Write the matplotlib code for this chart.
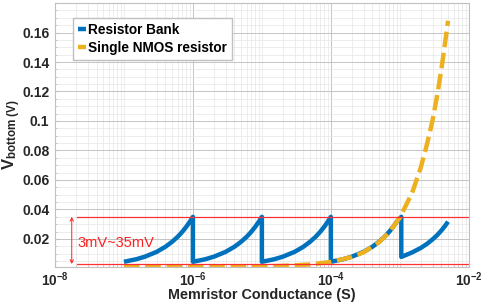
import numpy as np
import matplotlib
matplotlib.use("Agg")
import matplotlib.pyplot as plt
from matplotlib.ticker import FixedLocator, MultipleLocator, NullFormatter

plt.rcParams['font.family'] = ['Liberation Sans', 'DejaVu Sans']
plt.rcParams['mathtext.fontset'] = 'custom'
plt.rcParams['mathtext.rm'] = 'Liberation Sans'
plt.rcParams['mathtext.bf'] = 'Liberation Sans:bold'
plt.rcParams['mathtext.it'] = 'Liberation Sans:italic'

# Resistor Bank (sawtooth, one ramp per decade)
bank_g = [1e-7, 1.5e-7, 2e-7, 3e-7, 4e-7, 5e-7, 6e-7, 7e-7, 8e-7, 9e-7, 1e-6,
          1e-6, 1.5e-6, 2e-6, 3e-6, 4e-6, 5e-6, 6e-6, 7e-6, 8e-6, 9e-6, 1e-5,
          1e-5, 1.5e-5, 2e-5, 3e-5, 4e-5, 5e-5, 6e-5, 7e-5, 8e-5, 9e-5, 1e-4,
          1e-4, 1.5e-4, 2e-4, 3e-4, 4e-4, 5e-4, 6e-4, 7e-4, 8e-4, 9e-4, 1.05e-3,
          1.05e-3, 1.5e-3, 2e-3, 2.5e-3, 3e-3, 3.5e-3, 4e-3, 4.5e-3, 5e-3]
bank_v = [0.0045, 0.0062, 0.0079, 0.0113, 0.0147, 0.0181, 0.0214, 0.0248, 0.0282, 0.0316, 0.035,
          0.0045, 0.0062, 0.0079, 0.0113, 0.0147, 0.0181, 0.0214, 0.0248, 0.0282, 0.0316, 0.035,
          0.0045, 0.0062, 0.0079, 0.0113, 0.0147, 0.0181, 0.0214, 0.0248, 0.0282, 0.0316, 0.035,
          0.0045, 0.0062, 0.0079, 0.0113, 0.0147, 0.0181, 0.0214, 0.0248, 0.0282, 0.0316, 0.035,
          0.0078, 0.0108, 0.0138, 0.0168, 0.0198, 0.0227, 0.0257, 0.0287, 0.0317]

# Single NMOS resistor
nmos_g = [1e-7, 1e-6, 1e-5, 2e-5, 5e-5, 1e-4, 2e-4, 3e-4, 5e-4, 7e-4, 1e-3,
          1.5e-3, 2e-3, 2.5e-3, 3e-3, 3.5e-3, 4e-3, 4.5e-3, 5e-3]
nmos_v = [0.001, 0.00103, 0.0013, 0.0017, 0.0027, 0.0044, 0.0077, 0.011, 0.0178, 0.0245, 0.0345,
          0.051, 0.068, 0.085, 0.101, 0.118, 0.135, 0.152, 0.168]

range_lo, range_hi = 0.003, 0.035
x_ticks = [1e-8, 1e-6, 1e-4, 1e-2]
x_tick_labels = [r'$\mathbf{10^{-8}}$', r'$\mathbf{10^{-6}}$', r'$\mathbf{10^{-4}}$', r'$\mathbf{10^{-2}}$']
y_ticks = [0.02, 0.04, 0.06, 0.08, 0.1, 0.12, 0.14, 0.16]
y_tick_labels = ['0.02', '0.04', '0.06', '0.08', '0.1', '0.12', '0.14', '0.16']

fig = plt.figure(figsize=(4.84, 3.03), dpi=100)
ax = fig.add_axes([0.1136, 0.119, 0.855, 0.871])

ax.plot(bank_g, bank_v, color='#0072BD', lw=3.2, label='Resistor Bank', solid_capstyle='butt')
ax.plot(nmos_g, nmos_v, color='#EDB120', lw=3.2, ls=(0, (3.5, 1.3)), label='Single NMOS resistor')

ax.set_xscale('log')
ax.set_xlim(1e-8, 1e-2)
ax.set_ylim(0.001, 0.18)

ax.xaxis.set_major_locator(FixedLocator(x_ticks))
ax.set_xticklabels(x_tick_labels)
minors = [m * 10.0 ** e for e in range(-8, -2) for m in range(2, 11)]
ax.xaxis.set_minor_locator(FixedLocator(minors))
ax.xaxis.set_minor_formatter(NullFormatter())
ax.set_yticks(y_ticks)
ax.set_yticklabels(y_tick_labels)
ax.yaxis.set_minor_locator(MultipleLocator(0.005))

ax.grid(which='major', color='#c4c4c4', lw=0.7)
ax.grid(which='minor', color='#e6e6e6', lw=0.5)
ax.set_axisbelow(True)
for s in ax.spines.values():
    s.set_color('#c0c0c0')
    s.set_linewidth(0.8)
ax.tick_params(which='both', direction='in', color='#c0c0c0', labelcolor='#262626')
ax.tick_params(which='major', length=3)
ax.tick_params(which='minor', length=1.5)
ax.tick_params(axis='x', labelsize=9.8, pad=2.5)
ax.tick_params(axis='y', labelsize=10, pad=4)
for lbl in ax.get_yticklabels():
    lbl.set_fontweight('bold')

# range annotation
ax.plot([2.1e-8, 1e-2], [range_hi, range_hi], color='#ff3030', lw=0.9)
ax.plot([2.1e-8, 1e-2], [range_lo, range_lo], color='#ff3030', lw=0.9)
ax.annotate('', xy=(1.75e-8, range_hi), xytext=(1.75e-8, range_lo),
            arrowprops=dict(arrowstyle='<->', color='#ff2020', lw=0.7, mutation_scale=6,
                            shrinkA=0, shrinkB=0))
ax.text(2.15e-8, 0.0175, '3mV~35mV', color='#ff2020', fontsize=10.5, va='center', ha='left')

ax.set_xlabel('Memristor Conductance (S)', fontsize=10.4, fontweight='bold', color='#262626',
              va='bottom')
ax.xaxis.set_label_coords(0.5, -0.1315)
ax.set_ylabel(r'$\mathbf{V_{bottom\ (V)}}$', fontsize=12, color='#262626')
ax.yaxis.set_label_coords(-0.077, 0.5)

leg = ax.legend(loc='upper left', bbox_to_anchor=(0.0435, 0.943), prop={'weight': 'bold', 'size': 9.8},
                handlelength=0.6, handletextpad=0.15, borderpad=0.35, labelspacing=0.3,
                frameon=True, fancybox=False, edgecolor='#c0c0c0', framealpha=1,
                borderaxespad=0)
for t in leg.get_texts():
    t.set_color('black')

fig.savefig('out.png', dpi=100)
